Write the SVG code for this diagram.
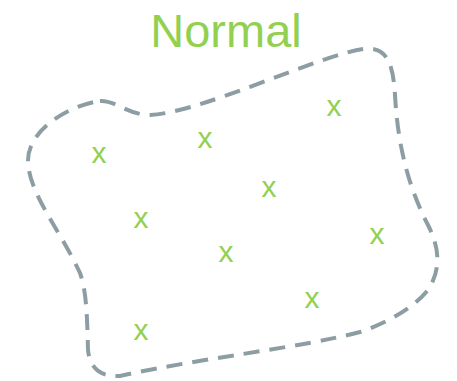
<svg xmlns="http://www.w3.org/2000/svg" width="457" height="381" viewBox="0 0 457 381">
<style>
.title{font-family:"Liberation Sans",Arial,sans-serif;font-size:47px;fill:#92d050;text-anchor:middle}
.pt{font-family:"Liberation Sans",Arial,sans-serif;font-size:30px;fill:#92d050;text-anchor:middle}
.blob{fill:none;stroke:#8c9ea3;stroke-width:4;stroke-dasharray:16 10;stroke-linecap:butt}
</style>
<rect width="457" height="381" fill="#ffffff"/>
<g id="boundary">
<path class="blob" d="M100,101 C115,100 128,115 150,115 C200,113 320,55 363,49 C385,46 393,60 395,95 C398,150 410,190 428,225 C438,245 442,265 430,287 C418,305 390,322 360,332 C300,348 200,358 120,376 C100,377 90,368 88,350 C87,310 86,290 80,273 C60,230 30,195 28,163 C26,130 70,105 100,101 Z"/>
</g>
<g id="title"><text class="title" x="226" y="47">Normal</text></g>
<g id="points">
<text class="pt" x="99" y="163">x</text>
<text class="pt" x="205" y="148">x</text>
<text class="pt" x="334" y="116">x</text>
<text class="pt" x="269" y="197">x</text>
<text class="pt" x="141" y="228">x</text>
<text class="pt" x="226" y="262">x</text>
<text class="pt" x="377" y="244">x</text>
<text class="pt" x="312" y="308">x</text>
<text class="pt" x="141" y="340">x</text>
</g>
</svg>
